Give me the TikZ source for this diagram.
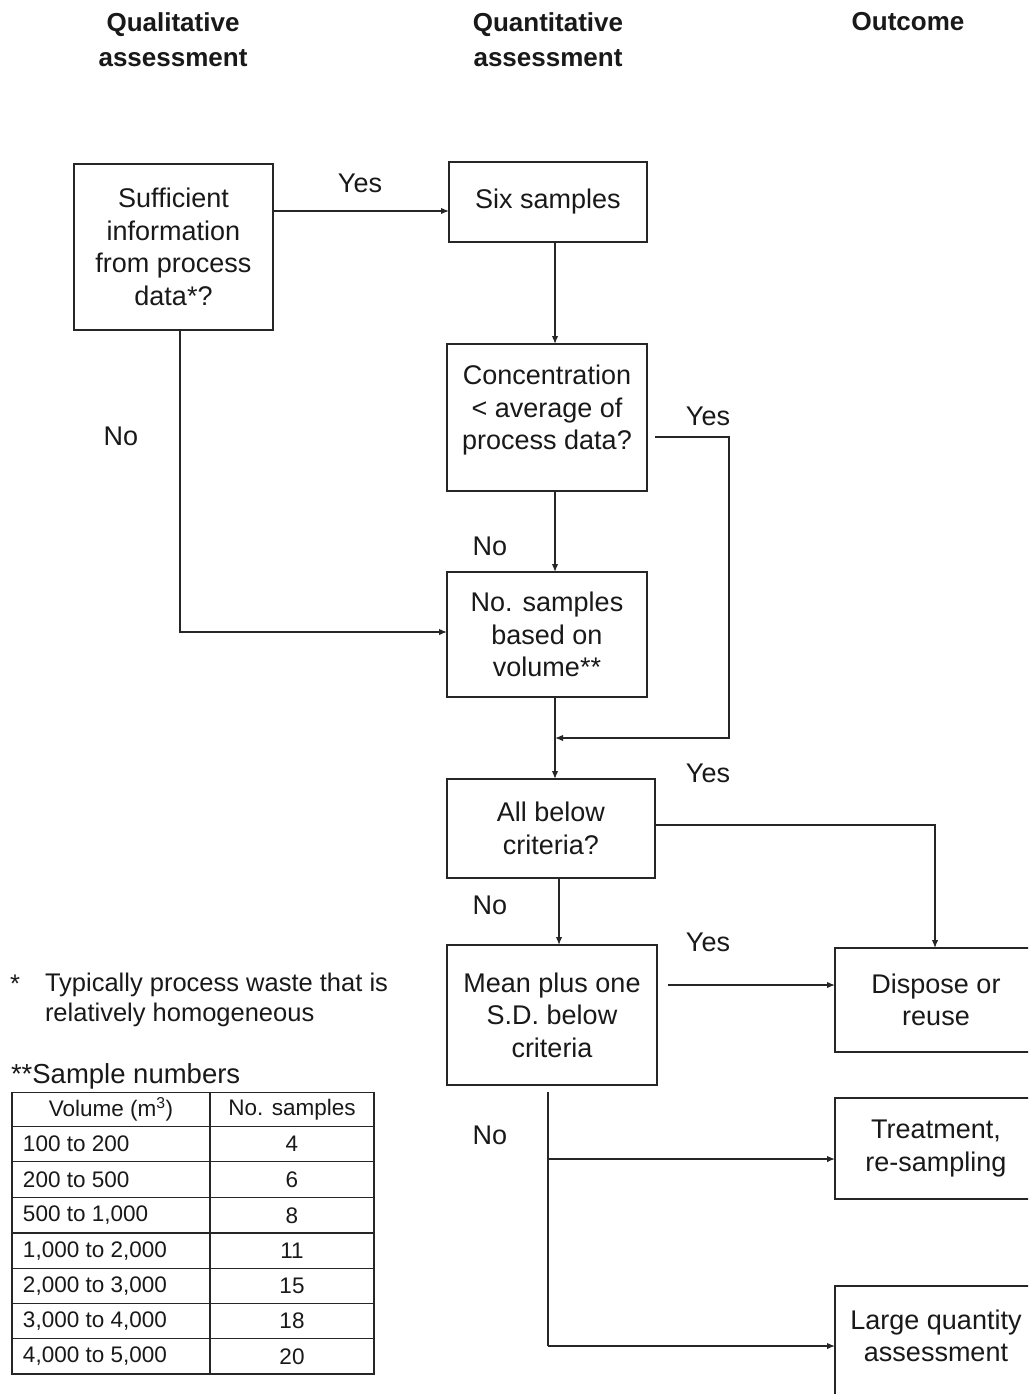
\documentclass[tikz,border=0pt]{standalone}
\usepackage{fontspec}
\setmainfont{Liberation Sans}
\usetikzlibrary{arrows.meta,calc}
\begin{document}
\begin{tikzpicture}[x=1pt,y=-1pt,
  every node/.style={inner sep=0pt, outer sep=0pt, text=black!90},
  box/.style={draw=black!85, line width=1.4pt, align=center,
    font=\fontsize{27}{32.5}\selectfont},
  conn/.style={draw=black!85, line width=1.4pt},
  arr/.style={conn, -{Latex[length=8pt,width=6.5pt]}},
  lbl/.style={font=\fontsize{27}{32}\selectfont},
  head/.style={align=center, font=\fontsize{26}{35}\selectfont\bfseries},
  cell/.style={font=\fontsize{22.5}{26}\selectfont},
  tline/.style={draw=black!85, line width=1.2pt}]
\useasboundingbox (0,0) rectangle (1028,1394);
\clip (0,0) rectangle (1028,1394);
\fill[white] (0,0) rectangle (1028,1394);

% headers
\node[head] (h1) at (173,39.5) {Qualitative\\assessment};
\node[head] (h2) at (548,39.5) {Quantitative\\assessment};
\node[head] (h3) at (908,22) {Outcome};

% boxes
\node[box, minimum width=199pt, minimum height=166pt] (A) at (173.5,247) {Sufficient\\information\\from process\\data*?};
\node[box, minimum width=198pt, minimum height=80pt] (B) at (548,202) {Six samples};
\node[box, minimum width=200pt, minimum height=147pt] (C) at (547,417.5) {Concentration\\\textless{} average of\\process data?\\[-12pt]\mbox{}};
\node[box, minimum width=200pt, minimum height=125pt] (D) at (547,634.5) {No. samples\\based on\\volume**};
\node[box, minimum width=208pt, minimum height=99pt] (E) at (551,828.5) {All below\\criteria?};
\node[box, minimum width=210pt, minimum height=140pt] (G) at (552,1015) {Mean plus one\\S.D. below\\criteria};
\node[box, minimum width=202pt, minimum height=104pt] (F) at (936,1000) {Dispose or\\reuse};
\node[box, minimum width=202pt, minimum height=101pt] (H) at (936,1148.5) {Treatment,\\re-sampling};
\node[box, minimum width=202pt, minimum height=124pt] (I) at (936,1348) {Large quantity\\assessment\\[-8pt]\mbox{}};

% helper coordinates
\coordinate (y211) at (0,211);
\coordinate (y437) at (0,437);
\coordinate (y632) at (0,632);
\coordinate (y738) at (0,738);
\coordinate (y825) at (0,825);
\coordinate (y985) at (0,985);
\coordinate (y1092) at (0,1092);
\coordinate (y1159) at (0,1159);
\coordinate (y1346) at (0,1346);
\coordinate (x180) at (180,0);
\coordinate (x555) at (555,0);
\coordinate (x559) at (559,0);
\coordinate (x548) at (548,0);
\coordinate (x729) at (729,0);
\coordinate (x935) at (935,0);

% connectors
\draw[arr] (A.east |- y211) -- (B.west |- y211);
\draw[arr] (B.south -| x555) -- (C.north -| x555);
\draw[arr] (C.south -| x555) -- (D.north -| x555);
\draw[arr] (A.south -| x180) -- (x180 |- y632) -- (D.west |- y632);
\draw[arr] ($(C.east |- y437)+(8,0)$) -- (x729 |- y437) -- (x729 |- y738) -- (x555 |- y738);
\draw[arr] (D.south -| x555) -- (E.north -| x555);
\draw[arr] (E.east |- y825) -- (x935 |- y825) -- (F.north -| x935);
\draw[arr] (E.south -| x559) -- (G.north -| x559);
\draw[arr] ($(G.east |- y985)+(11,0)$) -- (F.west |- y985);
\draw[conn] (x548 |- y1092) -- (x548 |- y1346);
\draw[arr] (x548 |- y1159) -- (H.west |- y1159);
\draw[arr] (x548 |- y1346) -- (I.west |- y1346);

% labels
\node[lbl] (l1) at (360,183) {Yes};
\node[lbl] (l2) at (121,436) {No};
\node[lbl] (l3) at (708,416) {Yes};
\node[lbl] (l4) at (490,546) {No};
\node[lbl] (l5) at (708,773) {Yes};
\node[lbl] (l6) at (490,905) {No};
\node[lbl] (l7) at (708,942) {Yes};
\node[lbl] (l8) at (490,1135) {No};

% footnotes
\node[font=\fontsize{25.5}{30}\selectfont, anchor=west] (fs) at (10,984) {*};
\node[font=\fontsize{25.5}{30}\selectfont, anchor=north west, align=left] (fn) at (45,973) {Typically process waste that is\\relatively homogeneous};
\node[font=\fontsize{27.5}{32}\selectfont, anchor=west] (st) at (11,1076) {**Sample numbers};

% table
\draw[tline] (12,1092.3) rectangle (374,1374);
\draw[tline] (210,1092.3) -- (210,1374);
\foreach \yy in {1126.7,1161.7,1197.7,1233,1268.7,1303.3,1338.7}{
  \draw[tline] (12,\yy) -- (374,\yy);
}
\node[cell] (th1) at (111,1109.5) {Volume (m\textsuperscript{3})};
\node[cell] (th2) at (292,1109.5) {No. samples};
\foreach \v/\n/\yy [count=\i] in {{100 to 200}/4/1144.2, {200 to 500}/6/1179.7, {500 to 1,000}/8/1215.3, {1,000 to 2,000}/11/1250.8, {2,000 to 3,000}/15/1286, {3,000 to 4,000}/18/1321, {4,000 to 5,000}/20/1356.3}{
  \node[cell, anchor=west] (tv\i) at (23,\yy) {\v};
  \node[cell] (tn\i) at (292,\yy) {\n};
}
\end{tikzpicture}
\end{document}
